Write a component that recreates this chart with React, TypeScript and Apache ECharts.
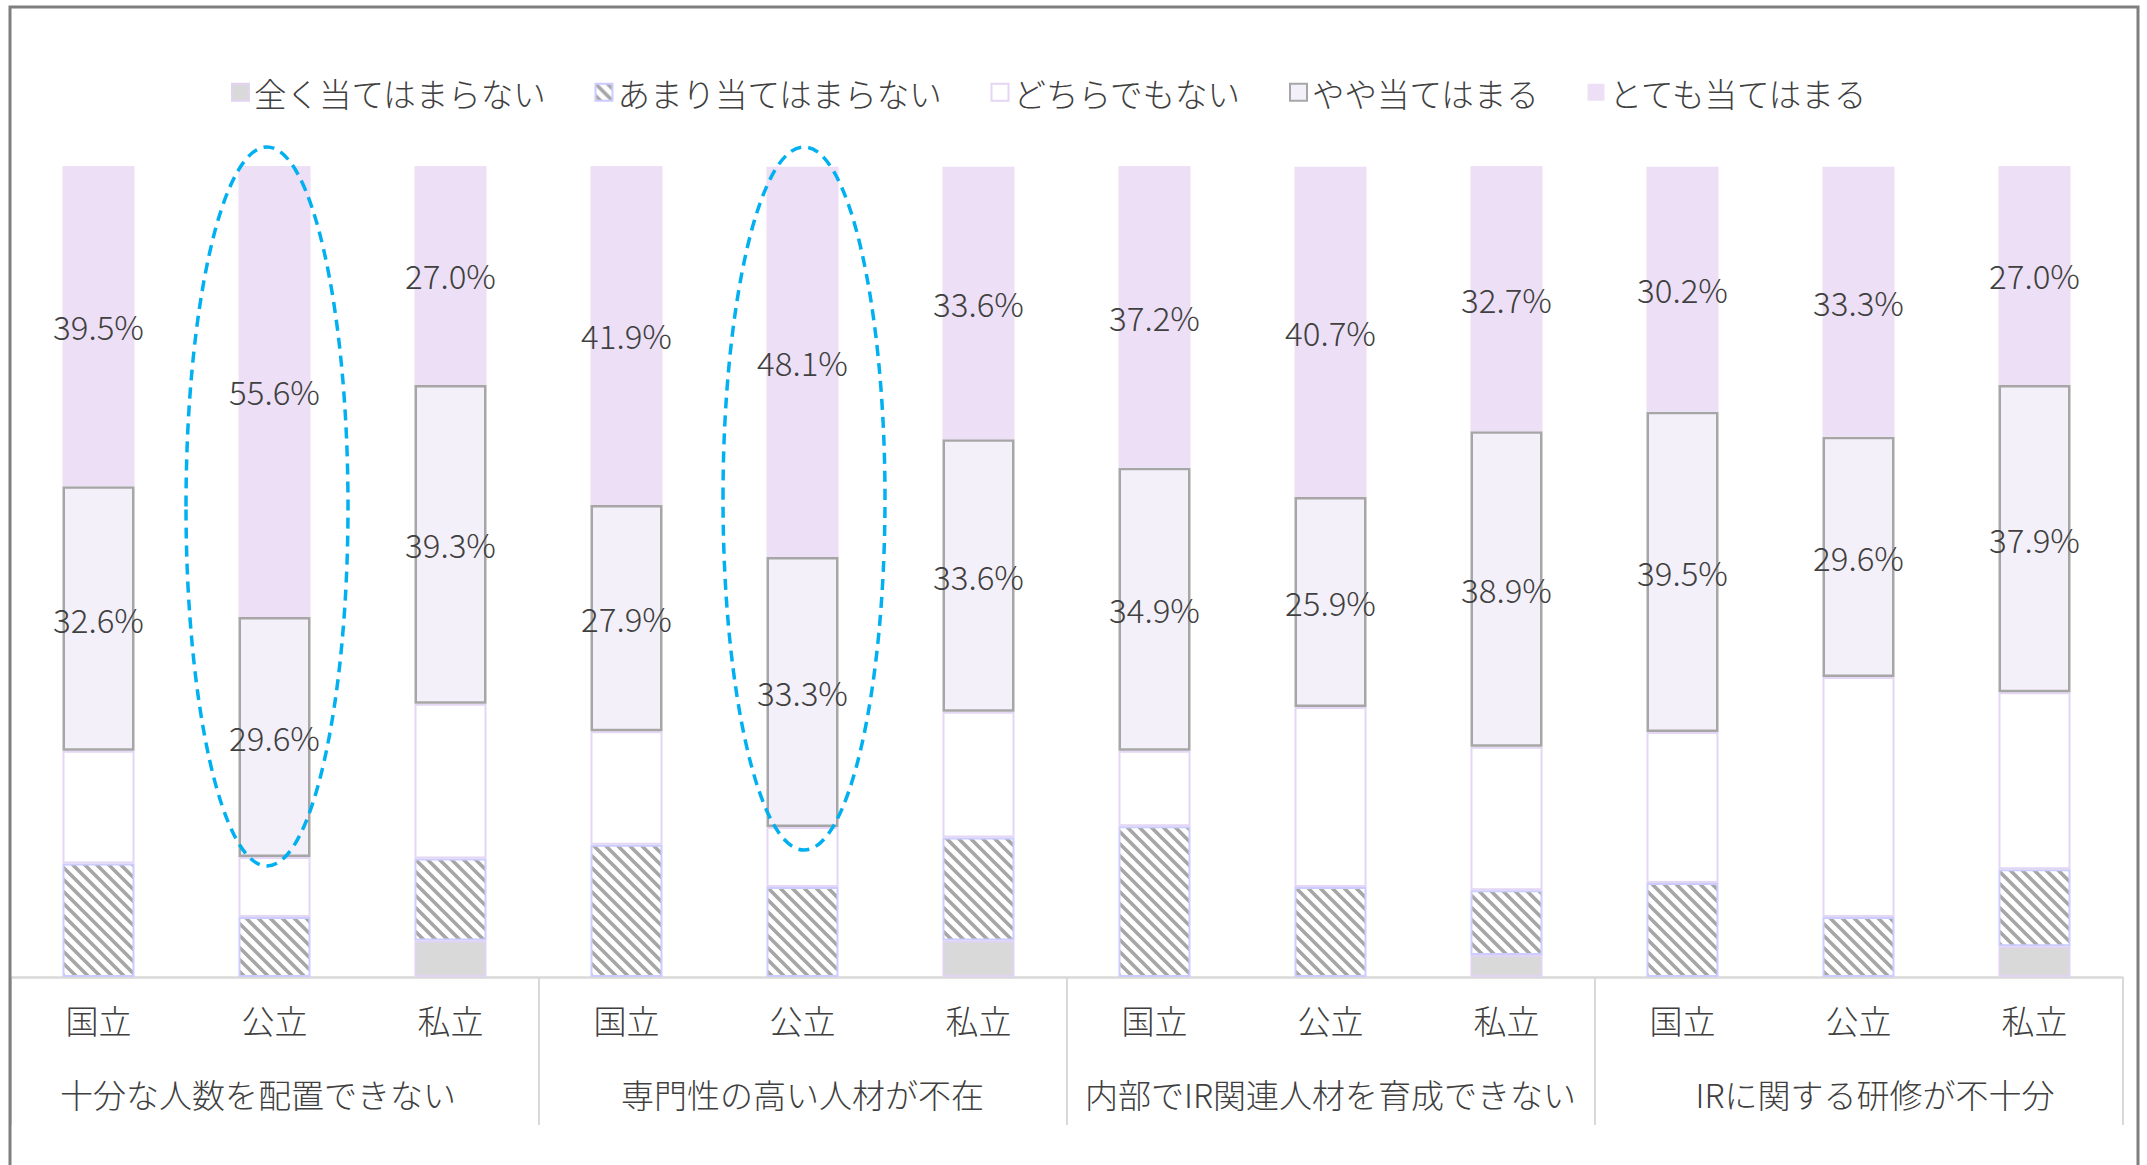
import React, { useEffect, useRef } from 'react';
import * as echarts from 'echarts';

const categories = ['国立', '公立', '私立', '国立', '公立', '私立', '国立', '公立', '私立', '国立', '公立', '私立'];
const groups = ['十分な人数を配置できない\u3000', '専門性の高い人材が不在', '内部でIR関連人材を育成できない', '\u3000IRに関する研修が不十分'];
const seriesNames = ['全く当てはまらない', 'あまり当てはまらない', 'どちらでもない', 'やや当てはまる', 'とても当てはまる'];
const notAtAll = [0, 0, 4.5, 0, 0, 4.5, 0, 0, 2.7, 0, 0, 3.8];
const notMuch = [14.0, 7.4, 10.1, 16.3, 11.1, 12.7, 18.6, 11.1, 8.0, 11.6, 7.4, 9.5];
const neutral = [13.9, 7.4, 19.1, 14.0, 7.4, 15.5, 9.3, 22.2, 17.7, 18.6, 29.6, 21.8];
const somewhat = [32.6, 29.6, 39.3, 27.9, 33.3, 33.6, 34.9, 25.9, 38.9, 39.5, 29.6, 37.9];
const very = [39.5, 55.6, 27.0, 41.9, 48.1, 33.6, 37.2, 40.7, 32.7, 30.2, 33.3, 27.0];

const FONT = '"Noto Sans CJK JP", "Noto Sans", sans-serif';
const TEXT = '#404040';

const hatchSvg =
  "<svg xmlns='http://www.w3.org/2000/svg' width='12' height='12'>" +
  "<rect width='12' height='12' fill='white'/>" +
  "<path d='M-2,-2 L14,14 M-2,10 L2,14 M10,-2 L14,2' stroke='%23a6a6a6' stroke-width='3.6'/></svg>";
const hatchUrl = 'data:image/svg+xml;charset=utf-8,' + hatchSvg.replace(/</g, '%3C').replace(/>/g, '%3E').replace(/ /g, '%20');

export default function App() {
  const ref = useRef<HTMLDivElement>(null);
  useEffect(() => {
    if (!ref.current) return;
    const chart = echarts.init(ref.current, undefined, { renderer: 'svg' });
    const toData = (arr: number[]) => arr.map((v) => (v === 0 ? null : v));
    const valueLabel = {
      show: true,
      position: 'inside',
      fontSize: 33,
      fontFamily: FONT,
      fontWeight: 300,
      color: TEXT,
      formatter: (p: any) => Number(p.value).toFixed(1) + '%',
    };
    const styles: any[] = [
      { color: '#d9d9d9', borderColor: '#e2d3f3', borderWidth: 2 },
      { color: { image: hatchUrl, repeat: 'repeat', imageWidth: 12, imageHeight: 12 }, borderColor: '#ccccff', borderWidth: 2 },
      { color: '#ffffff', borderColor: '#e4d6f4', borderWidth: 2 },
      { color: '#f4f0fa', borderColor: '#a6a6a6', borderWidth: 2.5 },
      { color: '#ede0f6', borderColor: '#ede0f6', borderWidth: 0 },
    ];
    const dataSets = [notAtAll, notMuch, neutral, somewhat, very];
    const series = seriesNames.map((name, i) => ({
      name,
      type: 'bar',
      stack: 'total',
      xAxisIndex: 0,
      barWidth: 72,
      itemStyle: styles[i],
      label: i >= 3 ? valueLabel : { show: false },
      data: toData(dataSets[i]),
    }));

    chart.setOption({
      animation: false,
      backgroundColor: '#ffffff',
      legend: {
        data: seriesNames,
        left: 226,
        top: 71,
        icon: 'rect',
        itemWidth: 17,
        itemHeight: 17,
        itemGap: 48,
        textStyle: { fontSize: 32.5, fontFamily: FONT, fontWeight: 300, color: TEXT },
      },
      grid: { left: 10.5, right: 24.5, top: 166, bottom: 188, containLabel: false },
      xAxis: [
        {
          type: 'category',
          data: categories,
          position: 'bottom',
          axisLine: { show: true, lineStyle: { color: '#d9d9d9', width: 2.5 } },
          axisTick: { show: false },
          axisLabel: { fontSize: 33, fontFamily: FONT, fontWeight: 300, color: TEXT, margin: 26, interval: 0 },
        },
        {
          type: 'category',
          data: groups,
          position: 'bottom',
          axisLine: { show: false },
          axisTick: { show: true, length: 148, interval: 0, lineStyle: { color: '#d9d9d9', width: 2 } },
          axisLabel: { fontSize: 33, fontFamily: FONT, fontWeight: 300, color: TEXT, margin: 100, interval: 0 },
        },
      ],
      yAxis: { type: 'value', min: 0, max: 100, show: false },
      series,
      graphic: [
        {
          type: 'rect',
          shape: { x: 10, y: 7, width: 2128, height: 1175 },
          style: { fill: 'none', stroke: '#7f7f7f', lineWidth: 3 },
          z: 100,
          silent: true,
        },
        {
          type: 'ellipse',
          shape: { cx: 267, cy: 506.5, rx: 81, ry: 359.5 },
          style: { fill: 'none', stroke: '#00b0f0', lineWidth: 3.5, lineDash: [11, 7] },
          z: 100,
          silent: true,
        },
        {
          type: 'ellipse',
          shape: { cx: 804, cy: 498.5, rx: 81, ry: 351.5 },
          style: { fill: 'none', stroke: '#00b0f0', lineWidth: 3.5, lineDash: [11, 7] },
          z: 100,
          silent: true,
        },
      ],
    });
    return () => chart.dispose();
  }, []);
  return (
    <div
      ref={ref}
      style={{ position: 'absolute', left: 0, top: 0, width: 2147, height: 1165, background: '#fff' }}
    />
  );
}
